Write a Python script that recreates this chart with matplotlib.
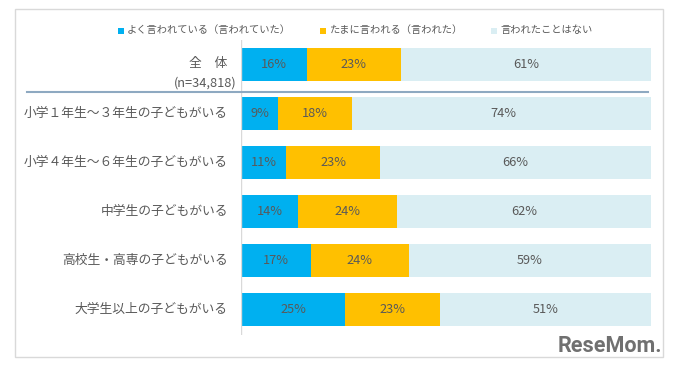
import matplotlib
matplotlib.use("Agg")
import matplotlib.pyplot as plt
import numpy as np
from matplotlib.patches import Rectangle
from matplotlib.lines import Line2D

plt.rcParams['font.family'] = ['Noto Sans CJK JP', 'DejaVu Sans']

categories = ["全　体\n(n=34,818)",
              "小学１年生～３年生の子どもがいる",
              "小学４年生～６年生の子どもがいる",
              "中学生の子どもがいる",
              "高校生・高専の子どもがいる",
              "大学生以上の子どもがいる"]
often = [16, 9, 11, 14, 17, 25.4]
sometimes = [23, 18, 23, 24, 24, 23.2]
never = [61, 74, 66, 62, 59, 51.4]
series_names = ["よく言われている（言われていた）", "たまに言われる（言われた）", "言われたことはない"]
colors = ["#00B0F0", "#FFC000", "#DAEEF3"]
text_color = "#595959"

W, H = 674, 370
fig = plt.figure(figsize=(W/100, H/100), dpi=100)
fig.patch.set_facecolor("white")

# outer frame
fig.add_artist(Rectangle((15/W, 1-357/H), (663-15)/W, (357-9)/H, transform=fig.transFigure,
                         fill=False, edgecolor="#D9D9D9", linewidth=1))

ax_top, ax_bot = 40, 335
row0, step = 64.5, 49.0
ax = fig.add_axes([241/W, 1-ax_bot/H, 410/W, (ax_bot-ax_top)/H])
n = len(categories)
y = np.arange(n)
ax.set_ylim((ax_bot-row0)/step, -(row0-ax_top)/step)
ax.set_xlim(0, 100)

h = 33/step
left = np.zeros(n)
for vals, c in zip([often, sometimes, never], colors):
    vals = np.array(vals, dtype=float)
    ax.barh(y, vals, left=left, height=h, color=c, edgecolor="none")
    for yi, l, v in zip(y, left, vals):
        ax.text(l + v/2, yi, f"{v:.0f}%", ha="center", va="center",
                fontsize=9.2, color=text_color)
    left += vals

for s in ax.spines.values():
    s.set_visible(False)
ax.set_xticks([])
ax.set_yticks([])
ax.axvline(0, color="#D9D9D9", linewidth=1)

# category labels
for yi, cat in zip(y, categories):
    if "\n" in cat:
        a, b = cat.split("\n")
        ax.text(-3.4, yi - 0.03, a, ha="right", va="center", fontsize=9.2, color=text_color)
        ax.text(-1.0, yi + 0.37, b, ha="right", va="center", fontsize=9.2, color=text_color)
    else:
        ax.text(-3.2, yi, cat, ha="right", va="center", fontsize=9.2, color=text_color)

# separator
fig.add_artist(Line2D([27/W, 648/W], [1-92/H, 1-92/H], transform=fig.transFigure,
                      color="#8EA9C1", linewidth=1.5))

# legend
leg_x = [118, 320, 491]
for lx, name, c in zip(leg_x, series_names, colors):
    fig.add_artist(Rectangle((lx/W, 1-34/H), 6/W, 6/H, transform=fig.transFigure,
                             facecolor=c, edgecolor="none"))
    fig.text((lx+9)/W, 1-30/H, name, ha="left", va="center", fontsize=7.4, color=text_color)

# logo
fig.text(662/W, 1-346/H, "ReseMom.", ha="right", va="center", fontsize=15.5,
         fontweight="bold", color="#707070",
         family=["Roboto", "DejaVu Sans"])

fig.savefig("out.png", dpi=100)
